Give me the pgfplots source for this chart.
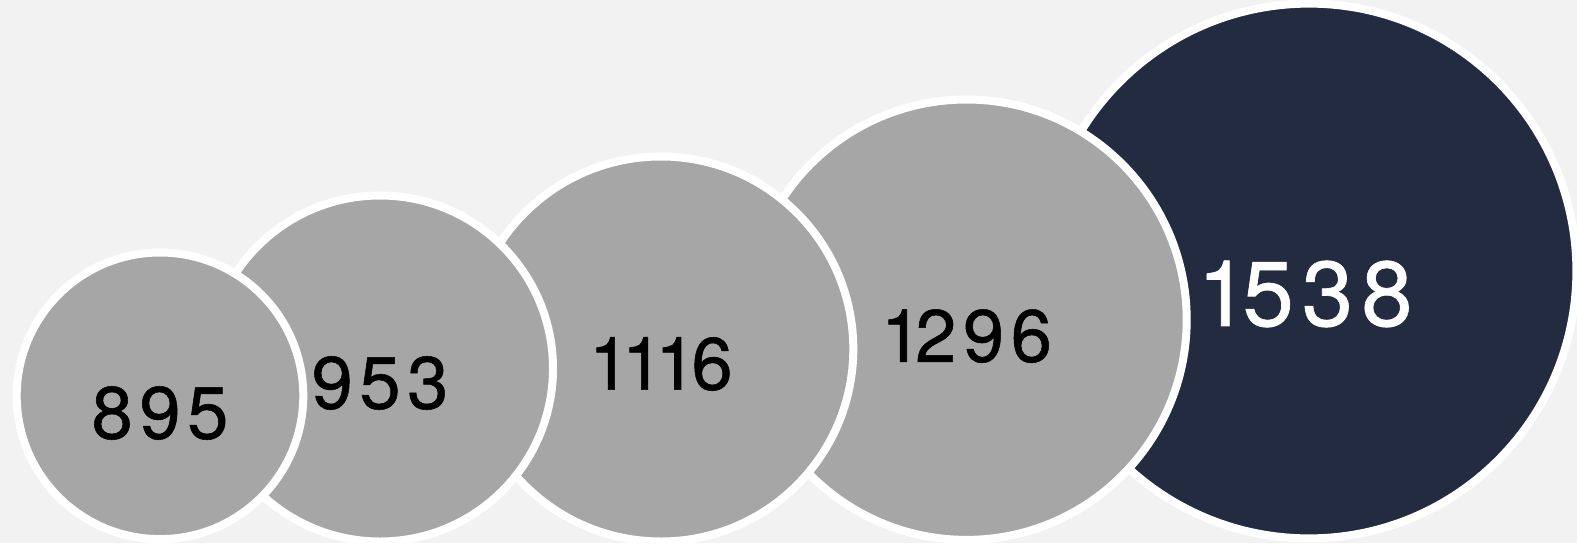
\documentclass[border=0pt]{standalone}
\usepackage{pgfplots}
\pgfplotsset{compat=1.18}
\usepackage{fontspec}
\setmainfont{TeX Gyre Heros}[LetterSpace=9, FakeBold=0.7]
\definecolor{bg}{HTML}{F2F2F2}
\definecolor{bubgray}{HTML}{A6A6A6}
\definecolor{bubdark}{HTML}{232B40}
\begin{document}
\begin{tikzpicture}
\path[use as bounding box, fill=bg] (0,0) rectangle (788.5pt,271.5pt);
\begin{axis}[
  at={(0,0)}, anchor=south west,
  width=788.5pt, height=271.5pt, scale only axis,
  xmin=0, xmax=1577, ymin=0, ymax=543,
  axis lines=none, ticks=none, clip=false,
  point meta=explicit symbolic,
  nodes near coords,
  every node near coord/.append style={anchor=center, inner sep=0pt},
]
% circle 5 (drawn first, lies beneath)
\addplot[only marks, mark=*, mark size=133.7pt,
  mark options={fill=bubdark, draw=white, line width=4pt},
  every node near coord/.append style={text=white, font=\fontsize{46}{46}\selectfont, yshift=-11.5pt, xshift=-2pt}]
  coordinates {(1309,272) [1\kern-3pt 538]};
\addplot[only marks, mark=*, mark size=110.1pt,
  mark options={fill=bubgray, draw=white, line width=4pt},
  every node near coord/.append style={text=black, font=\fontsize{37}{37}\selectfont, yshift=-8.2pt}]
  coordinates {(966.5,223.3) [1\kern-3.5pt 296]};
\addplot[only marks, mark=*, mark size=96.25pt,
  mark options={fill=bubgray, draw=white, line width=4pt},
  every node near coord/.append style={text=black, font=\fontsize{37}{37}\selectfont, yshift=-7.5pt}]
  coordinates {(660.8,194) [1\kern-4pt 1\kern-4pt 1\kern-2.5pt 6]};
\addplot[only marks, mark=*, mark size=86.5pt,
  mark options={fill=bubgray, draw=white, line width=4pt},
  every node near coord/.append style={text=black, font=\fontsize{37}{37}\selectfont, yshift=-7.25pt}]
  coordinates {(380,174.5) [953]};
\addplot[only marks, mark=*, mark size=71.65pt,
  mark options={fill=bubgray, draw=white, line width=4pt},
  every node near coord/.append style={text=black, font=\fontsize{37}{37}\selectfont, yshift=-8.6pt}]
  coordinates {(160,147.2) [895]};
\end{axis}
\end{tikzpicture}
\end{document}
